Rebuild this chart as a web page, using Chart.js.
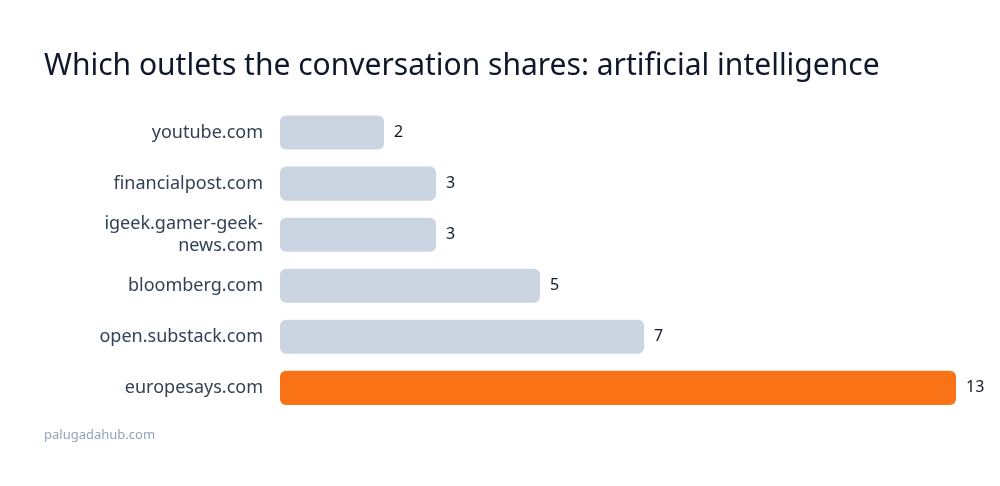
<!DOCTYPE html>
<html>
<head>
    <title>Outlets chart</title>
    <script src="https://cdn.jsdelivr.net/npm/chart.js"></script>
    <style>
        body { margin: 0; background: #fff; }
        #wrap { width: 1000px; height: 486px; }
    </style>
</head>
<body>
    <div id="wrap"><canvas id="outletChart"></canvas></div>
    <script>
        const outlets = ['youtube.com', 'financialpost.com', ['igeek.gamer-geek-', 'news.com'], 'bloomberg.com', 'open.substack.com', 'europesays.com'];
        const shares = [2, 3, 3, 5, 7, 13];
        const barColors = ['#cbd5e1', '#cbd5e1', '#cbd5e1', '#cbd5e1', '#cbd5e1', '#f97316'];

        const font = '"Noto Sans", "Open Sans", sans-serif';

        // value text to the right of each bar
        const valueLabels = {
            id: 'valueLabels',
            afterDatasetsDraw(chart) {
                const ctx = chart.ctx;
                const meta = chart.getDatasetMeta(0);
                ctx.save();
                ctx.font = '16px ' + font;
                ctx.fillStyle = '#111827';
                ctx.textAlign = 'left';
                ctx.textBaseline = 'middle';
                meta.data.forEach((bar, i) => {
                    ctx.fillText(String(shares[i]), bar.x + 10, bar.y);
                });
                ctx.restore();
            }
        };

        new Chart(document.getElementById('outletChart'), {
            type: 'bar',
            data: {
                labels: outlets,
                datasets: [{
                    data: shares,
                    backgroundColor: barColors,
                    borderRadius: 6,
                    borderSkipped: false,
                    barPercentage: 0.667,
                    categoryPercentage: 1
                }]
            },
            plugins: [valueLabels],
            options: {
                indexAxis: 'y',
                responsive: true,
                maintainAspectRatio: false,
                animation: false,
                layout: { padding: { left: 44, right: 44, top: 30, bottom: 20 } },
                scales: {
                    x: { display: false, min: 0, max: 13 },
                    y: {
                        grid: { display: false },
                        border: { display: false },
                        ticks: {
                            padding: 9,
                            color: '#334155',
                            font: { family: font, size: 18, lineHeight: 1.2 }
                        },
                        afterFit(scale) { scale.width = 236; }
                    }
                },
                plugins: {
                    legend: { display: false },
                    tooltip: { enabled: false },
                    title: {
                        display: true,
                        text: 'Which outlets the conversation shares: artificial intelligence',
                        align: 'start',
                        color: '#0f172a',
                        font: { family: font, size: 30, weight: 'normal', lineHeight: 1.2 },
                        padding: { top: 18, bottom: 23 }
                    },
                    subtitle: {
                        display: true,
                        position: 'bottom',
                        text: 'palugadahub.com',
                        align: 'start',
                        color: '#94a3b8',
                        font: { family: font, size: 13, lineHeight: 1.2 },
                        padding: { top: 14, bottom: 23 }
                    }
                }
            }
        });
    </script>
</body>
</html>
